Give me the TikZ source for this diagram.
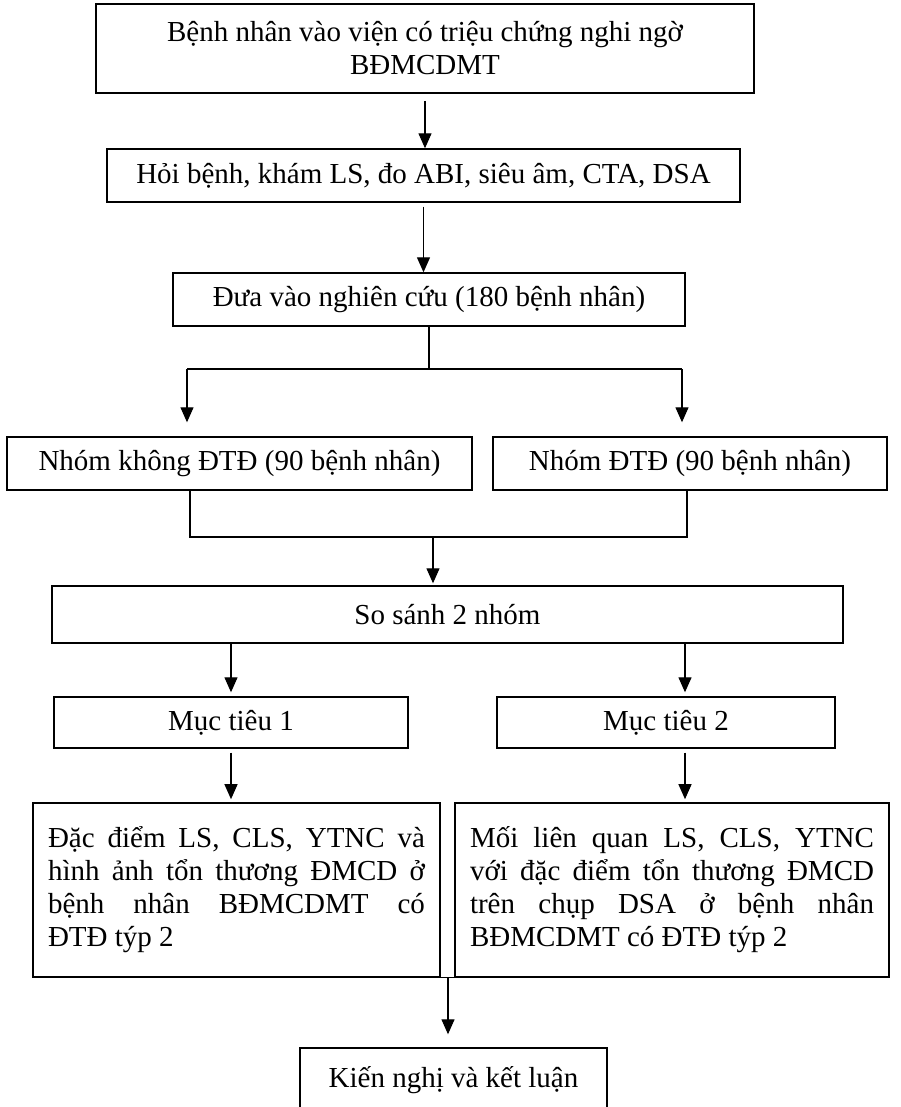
\documentclass[tikz,border=0pt]{standalone}
\usepackage{fontspec}
\setmainfont{Liberation Serif}
\usepackage{tikz}
\usetikzlibrary{arrows.meta}
\tolerance=10000
\hyphenpenalty=10000

\begin{document}
\begin{tikzpicture}[
    x=1pt, y=1pt,
    box/.style={rectangle, draw=black, line width=1.4pt, inner sep=0pt, align=center, font=\fontsize{29}{33}\selectfont},
    textbox/.style={rectangle, draw=black, line width=1.6pt, inner xsep=15pt, inner ysep=0pt, align=justify, font=\fontsize{29}{33}\selectfont},
    link/.style={line width=1.2pt},
    arrow/.style={-{Triangle[length=15pt,width=13pt]}, line width=1.2pt}
]
\useasboundingbox (0,0) rectangle (901,-1107);

% === Intake ===
\node[box, line width=1.8pt, minimum width=658pt, minimum height=89pt] (admit) at (425,-48.5) {Bệnh nhân vào viện có triệu chứng nghi ngờ\\BĐMCDMT};
\node[box, minimum width=633pt, minimum height=53pt] (exam) at (423.5,-175.5) {Hỏi bệnh, khám LS, đo ABI, siêu âm, CTA, DSA};
\node[box, minimum width=512pt, minimum height=53pt] (enrol) at (429,-299.5) {Đưa vào nghiên cứu (180 bệnh nhân)};

% === Groups ===
\node[box, minimum width=465pt, minimum height=53pt] (nodm) at (239.5,-463.5) {Nhóm không ĐTĐ (90 bệnh nhân)};
\node[box, minimum width=394pt, minimum height=53pt] (dm) at (690,-463.5) {Nhóm ĐTĐ (90 bệnh nhân)};

% === Comparison and aims ===
\node[box, minimum width=791pt, minimum height=57pt] (compare) at (447.5,-614.5) {So sánh 2 nhóm};
\node[box, minimum width=354pt, minimum height=51pt] (aim1) at (231,-722.5) {Mục tiêu 1};
\node[box, minimum width=338pt, minimum height=51pt] (aim2) at (666,-722.5) {Mục tiêu 2};

% === Results ===
\node[textbox, text width=377pt, minimum height=174pt] (res1) at (236.5,-890) {Đặc điểm LS, CLS, YTNC và\linebreak hình ảnh tổn thương ĐMCD ở\linebreak bệnh nhân BĐMCDMT có\linebreak ĐTĐ týp 2};
\node[textbox, text width=404pt, minimum height=174pt] (res2) at (672,-890) {Mối liên quan LS, CLS, YTNC\linebreak với đặc điểm tổn thương ĐMCD\linebreak trên chụp DSA ở bệnh nhân\linebreak BĐMCDMT có ĐTĐ týp 2};

\node[box, minimum width=307pt, minimum height=64pt] (concl) at (453.5,-1080) {Kiến nghị và kết luận};

% === Arrows ===
\draw[arrow, shorten <=7pt] (admit.south) -- (admit.south |- exam.north);
\draw[arrow, shorten <=4pt] (exam.south) -- (exam.south |- enrol.north);

% split into two groups
\coordinate (split) at (429,-369);
\coordinate (splitL) at (187,-369);
\coordinate (splitR) at (682,-369);
\draw[link] (enrol.south) -- (split);
\draw[link] (splitL) -- (splitR);
\draw[arrow, shorten >=14pt] (splitL) -- (splitL |- nodm.north);
\draw[arrow, shorten >=14pt] (splitR) -- (splitR |- dm.north);

% merge back
\coordinate (mergeL) at (190,-537);
\coordinate (mergeR) at (687,-537);
\coordinate (merge) at (433,-537);
\draw[link] (mergeL |- nodm.south) -- (mergeL) -- (mergeR) -- (mergeR |- dm.south);
\draw[arrow, shorten >=2pt] (merge) -- (merge |- compare.north);

\coordinate (colR) at (685,0);
\draw[arrow, shorten >=4pt] (aim1.north |- compare.south) -- (aim1.north);
\draw[arrow, shorten >=4pt] (compare.south -| colR) -- (colR |- aim2.north);
\draw[arrow, shorten <=4pt, shorten >=3pt] (aim1.south) -- (aim1.south |- res1.north);
\draw[arrow, shorten <=4pt, shorten >=3pt] (aim2.south -| colR) -- (colR |- res2.north);

% to conclusion
\coordinate (join) at (448,0);
\draw[link] ([xshift=-47pt]res1.south east) -- ([xshift=51pt]res2.south west);
\draw[arrow, shorten >=13pt] (res1.south -| join) -- (join |- concl.north);

\end{tikzpicture}
\end{document}
